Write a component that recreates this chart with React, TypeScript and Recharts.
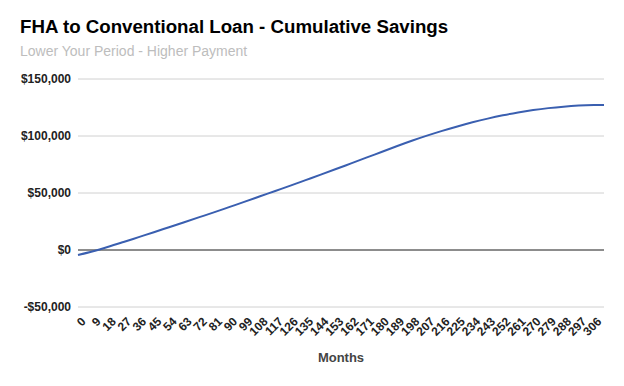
import React from 'react';
import { LineChart, Line, XAxis, YAxis, CartesianGrid, ReferenceLine } from 'recharts';

// Month index and cumulative savings
const months = [0, 9, 18, 27, 36, 45, 54, 63, 72, 81, 90, 99, 108, 117, 126, 135, 144, 153, 162, 171, 180, 189, 198, 207, 216, 225, 234, 243, 252, 261, 270, 279, 288, 297, 306, 312];
const savings = [-4400, -1100, 2800, 7000, 11300, 15600, 20000, 24400, 28800, 33200, 37800, 42400, 47100, 51800, 56500, 61300, 66100, 71000, 76000, 81000, 86000, 91000, 95800, 100300, 104500, 108400, 112000, 115250, 118150, 120650, 122750, 124450, 125750, 126650, 127150, 127300];

const xTicks = [0, 9, 18, 27, 36, 45, 54, 63, 72, 81, 90, 99, 108, 117, 126, 135, 144, 153, 162, 171, 180, 189, 198, 207, 216, 225, 234, 243, 252, 261, 270, 279, 288, 297, 306];
const yTicks = [-50000, 0, 50000, 100000, 150000];

const FONT = '"Liberation Sans", Arial, sans-serif';

const data = months.map((m, i) => ({ month: m, savings: savings[i] }));

const formatMoney = (val: number) =>
  (val < 0 ? '-$' : '$') + Math.abs(val).toLocaleString('en-US');

const MonthTick = (props: any) => {
  const { x, y, payload } = props;
  return (
    <g transform={`translate(${x + 2},${y + 1})`}>
      <text
        x={0}
        y={0}
        dy={9}
        textAnchor="end"
        transform="rotate(-45)"
        fontSize={12}
        fontWeight="bold"
        fill="#222"
        fontFamily={FONT}
      >
        {payload.value}
      </text>
    </g>
  );
};

const App: React.FC = () => {
  return (
    <div style={{ position: 'absolute', left: 0, top: 0, width: 624, height: 386, background: '#fff', fontFamily: FONT }}>
      <div style={{ position: 'absolute', left: 20, top: 16, fontSize: 18.7, fontWeight: 'bold', color: '#000' }}>
        FHA to Conventional Loan - Cumulative Savings
      </div>
      <div style={{ position: 'absolute', left: 20, top: 43, fontSize: 14, color: '#bdbdbd' }}>
        Lower Your Period - Higher Payment
      </div>
      <div style={{ position: 'absolute', left: 78, width: 526, top: 350, textAlign: 'center', fontSize: 13, fontWeight: 'bold', color: '#444' }}>
        Months
      </div>
      <LineChart width={624} height={386} data={data} margin={{ top: 79, right: 20, left: 0, bottom: 0 }}>
        <CartesianGrid vertical={false} stroke="#d0d0d0" />
        <XAxis
          dataKey="month"
          type="number"
          domain={[0, 312]}
          ticks={xTicks}
          interval={0}
          axisLine={false}
          tickLine={false}
          height={79}
          tick={<MonthTick />}
        />
        <YAxis
          domain={[-50000, 150000]}
          ticks={yTicks}
          width={78}
          axisLine={false}
          tickLine={false}
          tickMargin={1}
          tickFormatter={formatMoney}
          tick={{ fontSize: 12, fontWeight: 'bold', fill: '#222', fontFamily: FONT }}
        />
        <ReferenceLine y={0} stroke="#333" strokeWidth={1} />
        <Line
          type="monotone"
          dataKey="savings"
          stroke="#3a5fb0"
          strokeWidth={2}
          dot={false}
          isAnimationActive={false}
        />
      </LineChart>
    </div>
  );
};

export default App;
